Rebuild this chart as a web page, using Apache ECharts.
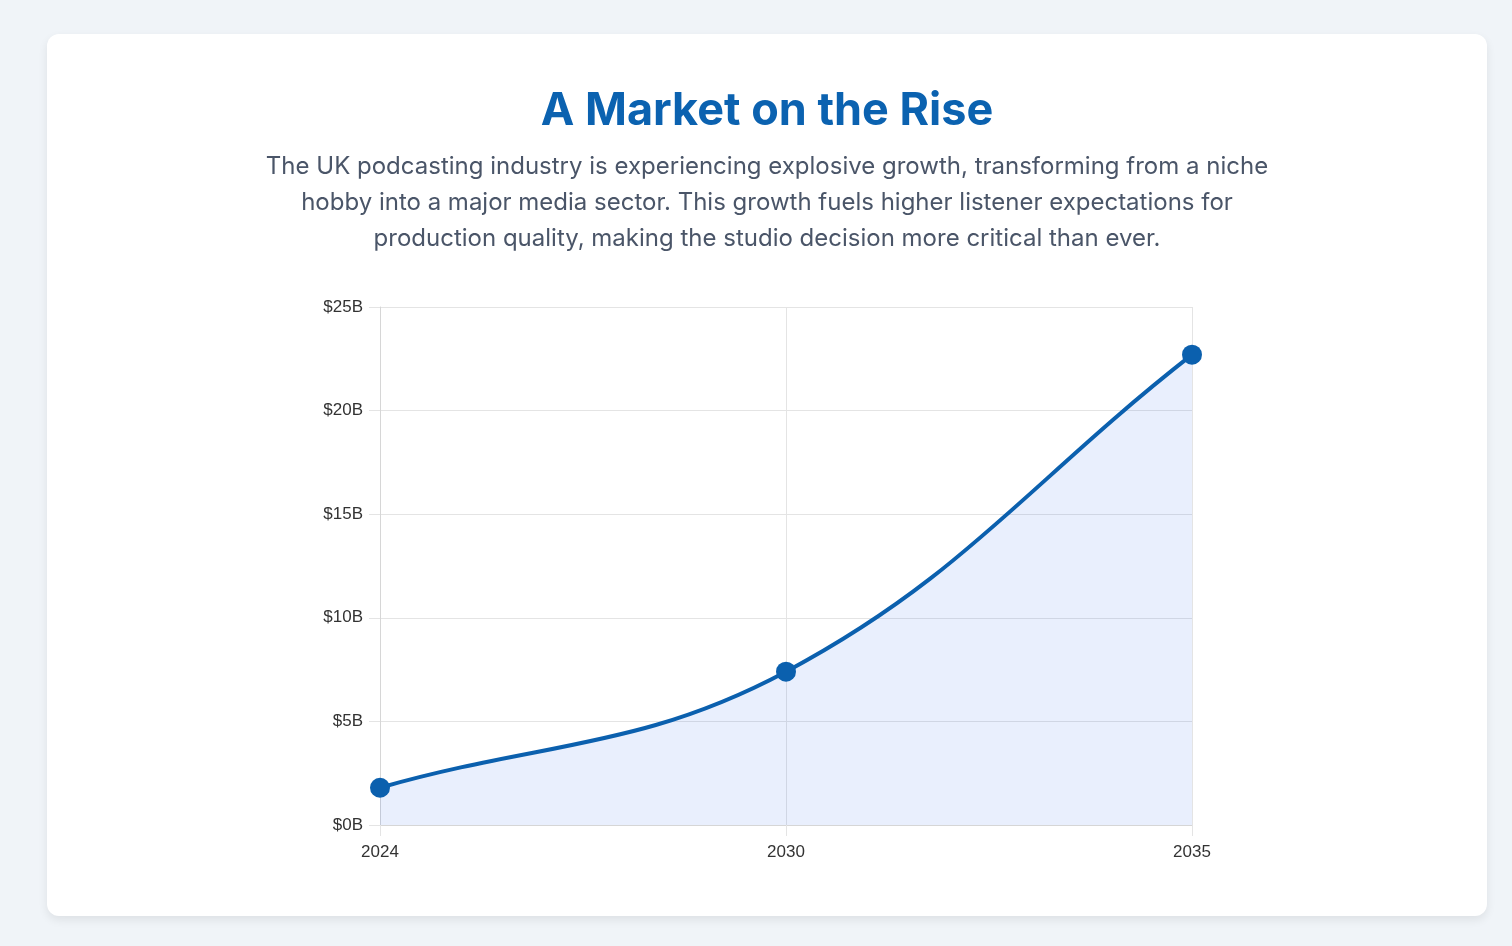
<!DOCTYPE html>
<html>
<head>
<meta charset="utf-8">
<title>A Market on the Rise</title>
<script src="https://cdn.jsdelivr.net/npm/echarts@6/dist/echarts.min.js"></script>
<style>
    html, body {
        margin: 0;
        padding: 0;
        background: #f0f4f8;
        width: 1512px;
        height: 946px;
        overflow: hidden;
        font-family: Inter, "Noto Sans", sans-serif;
    }
    .card {
        position: absolute;
        left: 47px;
        top: 34px;
        width: 1440px;
        height: 882px;
        background: #fff;
        border-radius: 12px;
        box-shadow: 0 4px 10px rgba(0, 0, 0, 0.08);
    }
    .title {
        position: absolute;
        left: 0;
        top: 45px;
        width: 100%;
        margin: 0;
        text-align: center;
        font-size: 45px;
        font-weight: 700;
        color: #0b62b0;
        line-height: 60px;
    }
    .desc {
        position: absolute;
        left: 0;
        top: 114px;
        width: 100%;
        margin: 0;
        text-align: center;
        font-size: 24px;
        line-height: 36px;
        color: #4a5568;
    }
    .mychart {
        position: absolute;
        left: 0;
        top: 0;
        width: 1440px;
        height: 882px;
    }
</style>
</head>
<body>
<div class="card">
    <div class="mychart" id="myChart"></div>
    <h1 class="title">A Market on the Rise</h1>
    <p class="desc">The UK podcasting industry is experiencing explosive growth, transforming from a niche<br>hobby into a major media sector. This growth fuels higher listener expectations for<br>production quality, making the studio decision more critical than ever.</p>
</div>
<script>
// market size, billions of dollars
var years = ["2024", "2030", "2035"];
var marketSize = [1.8, 7.4, 22.7];
var yTicks = { min: 0, max: 25, interval: 5 };

var lineColor = "#0b60ae";
var tension = 0.4;

// control points like a cardinal spline (curve leaves each end toward its neighbour)
function controlPoints(pts) {
    var cps = [];
    for (var i = 0; i < pts.length; i++) {
        var prev = pts[Math.max(i - 1, 0)];
        var cur = pts[i];
        var next = pts[Math.min(i + 1, pts.length - 1)];
        var d01 = Math.hypot(cur[0] - prev[0], cur[1] - prev[1]);
        var d12 = Math.hypot(next[0] - cur[0], next[1] - cur[1]);
        var s01 = d01 / (d01 + d12) || 0;
        var s12 = d12 / (d01 + d12) || 0;
        var fa = tension * s01;
        var fb = tension * s12;
        cps.push({
            prev: [cur[0] - fa * (next[0] - prev[0]), cur[1] - fa * (next[1] - prev[1])],
            next: [cur[0] + fb * (next[0] - prev[0]), cur[1] + fb * (next[1] - prev[1])],
        });
    }
    return cps;
}

function renderCurve(params, api) {
    if (params.dataIndex !== 0) return;
    var pts = marketSize.map(function (v, i) { return api.coord([i, v]); });
    var cps = controlPoints(pts);
    var d = "M" + pts[0][0] + " " + pts[0][1];
    for (var i = 1; i < pts.length; i++) {
        var a = cps[i - 1].next, b = cps[i].prev;
        d += " C" + a[0] + " " + a[1] + " " + b[0] + " " + b[1] + " " + pts[i][0] + " " + pts[i][1];
    }
    var base = api.coord([0, 0])[1];
    var area = d + " L" + pts[pts.length - 1][0] + " " + base + " L" + pts[0][0] + " " + base + " Z";
    return {
        type: "group",
        children: [
            { type: "path", shape: { pathData: area }, style: { fill: "rgba(37, 99, 235, 0.1)", stroke: null } },
            { type: "path", shape: { pathData: d }, style: { fill: null, stroke: lineColor, lineWidth: 4 } },
        ],
    };
}

var chart = echarts.init(document.getElementById("myChart"));
chart.setOption({
    animation: false,
    grid: {
        left: 333,
        top: 273,
        width: 812,
        height: 518,
    },
    xAxis: {
        type: "category",
        boundaryGap: false,
        data: years,
        axisLine: { lineStyle: { color: "#d6d6d6", width: 1 } },
        axisTick: { show: true, length: 11, lineStyle: { color: "#e4e4e4" } },
        axisLabel: {
            color: "#333",
            fontFamily: "Liberation Sans, Arial, sans-serif",
            fontSize: 17,
            margin: 19,
        },
        splitLine: { show: true, lineStyle: { color: "#e4e4e4", width: 1 } },
    },
    yAxis: {
        type: "value",
        min: yTicks.min,
        max: yTicks.max,
        interval: yTicks.interval,
        axisLine: { show: true, lineStyle: { color: "#d6d6d6", width: 1 } },
        axisTick: { show: true, length: 11, lineStyle: { color: "#e4e4e4" } },
        axisLabel: {
            color: "#333",
            fontFamily: "Liberation Sans, Arial, sans-serif",
            fontSize: 17,
            margin: 17,
            formatter: function (v) { return "$" + v + "B"; },
        },
        splitLine: { lineStyle: { color: "#e4e4e4", width: 1 } },
    },
    series: [
        {
            type: "custom",
            renderItem: renderCurve,
            data: years.map(function (y, i) { return [i, marketSize[i]]; }),
            encode: { x: 0, y: 1 },
            z: 2,
        },
        {
            type: "scatter",
            data: years.map(function (y, i) { return [i, marketSize[i]]; }),
            symbol: "circle",
            symbolSize: 20,
            itemStyle: { color: lineColor, opacity: 1 },
            z: 3,
        },
    ],
});
</script>
</body>
</html>
